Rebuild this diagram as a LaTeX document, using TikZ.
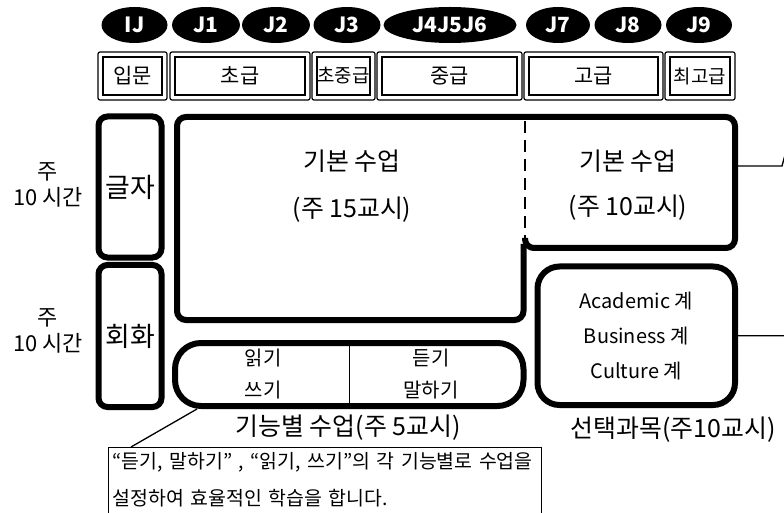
\documentclass[tikz,border=0pt]{standalone}
\usepackage{fontspec}
\setmainfont{Noto Sans CJK KR}
\usetikzlibrary{shapes.geometric}

\tikzset{
  grade/.style={ellipse, fill=black, text=white, inner sep=0pt,
    minimum height=36bp, font=\bfseries\fontsize{21}{21}\selectfont},
  lvl/.style={draw, line width=2.4bp, minimum height=38bp, inner sep=0pt,
    font=\fontsize{21}{21}\selectfont},
  thickbox/.style={draw, line width=6bp, rounded corners=9bp, inner sep=0pt},
  thin line/.style={line width=1.3bp}
}

\begin{document}
\begin{tikzpicture}[x=1bp,y=-1bp]
\useasboundingbox (0,0) rectangle (784,513);

% grade ellipses
\foreach \nm/\cx/\w in {IJ/134.5/66, J1/206/68, J2/276/68, J3/347/67,
    J4J5J6/450/133, J7/558/64, J8/628/67, J9/699/66}
  \node[grade, minimum width=\w bp] (g\nm) at (\cx,25) {\nm};

% level boxes
\foreach \nm/\xa/\xb/\txt in {intro/98/167/입문, beg/170/310/초급,
    begmid/312/375/{\fontsize{19}{19}\selectfont 초중급}, mid/377/522/중급,
    adv/524/663/고급, top/665/735/{\fontsize{19}{19}\selectfont 최고급}}{
  \draw[line width=1.2bp, rounded corners=2bp] (\xa,52) rectangle (\xb,100);
  \pgfmathsetmacro\w{\xb-\xa-10}
  \node[lvl, minimum width=\w bp] (\nm) at ({(\xa+\xb)/2},76) {\txt};
}

% left column
\node[align=center, font=\fontsize{22}{26}\selectfont] (hoursA) at (48,185) {주\\10 시간};
\node[align=center, font=\fontsize{22}{26}\selectfont] (hoursB) at (48,331) {주\\10 시간};
\node[thickbox, minimum width=63bp, minimum height=141bp,
  font=\fontsize{27}{27}\selectfont] (letters) at (130,187) {글자};
\node[thickbox, minimum width=63bp, minimum height=142bp,
  font=\fontsize{27}{27}\selectfont] (talk) at (130,336) {회화};

% basic classes
\draw[line width=6bp, rounded corners=9bp] (525,117) -- (177,117) -- (177,320)
  -- (523.5,320) -- (523.5,244);
\draw[line width=6bp, rounded corners=9bp] (525,117) -- (735,117) -- (735,248)
  -- (525,248) -- (525,238);
\draw[line width=2bp, dash pattern=on 12bp off 7bp] (525,121) -- (525,244);
\node[align=center, font=\fontsize{25}{47}\selectfont] (basicA) at (352,186) {기본 수업\\(주 15교시)};
\node[align=center, font=\fontsize{25}{45}\selectfont] (basicB) at (628,185) {기본 수업\\(주 10교시)};
\coordinate (basicBe) at (738,166);

% elective
\node[draw, line width=6bp, rounded corners=22bp, minimum width=197.5bp,
  minimum height=138.5bp, align=center, font=\fontsize{20}{35}\selectfont]
  (elective) at (636.25,335.75) {Academic 계\\Business 계\\Culture 계};

% skills
\node[draw, line width=6bp, rounded corners=26bp, minimum width=348.5bp,
  minimum height=63bp] (skills) at (349.25,374.5) {};
\draw[thin line] (skills.north) -- (skills.south);
\node[align=center, font=\fontsize{20}{32}\selectfont] (readwrite) at (263,374) {읽기\\쓰기};
\node[align=center, font=\fontsize{20}{32}\selectfont] (listenspeak) at (431,374) {듣기\\말하기};

\node[font=\fontsize{25}{25}\selectfont] (skillsLbl) at (348,428) {기능별 수업(주 5교시)};
\node[font=\fontsize{25}{25}\selectfont] (electiveLbl) at (673,430) {선택과목(주10교시)};

% note
\node[draw, thin line, anchor=north west, align=left, inner xsep=4bp, inner ysep=5bp,
  text width=425bp, text depth=40bp, font=\fontsize{19.5}{37}\selectfont]
  (note) at (108,447) {“듣기, 말하기” , “읽기, 쓰기”의 각 기능별로 수업을\\설정하여 효율적인 학습을 합니다.};
\coordinate (noteTip) at ([xshift=23bp]note.north west);
\draw[thin line] ([xshift=25bp]skills.south west) -- (noteTip);

% links off the right edge
\draw[thin line] (basicBe) -- ++(44,0) -- ++(6,-22);
\draw[thin line] (elective.east) -- ++(47,0) -- ++(6,-22);
\end{tikzpicture}
\end{document}
